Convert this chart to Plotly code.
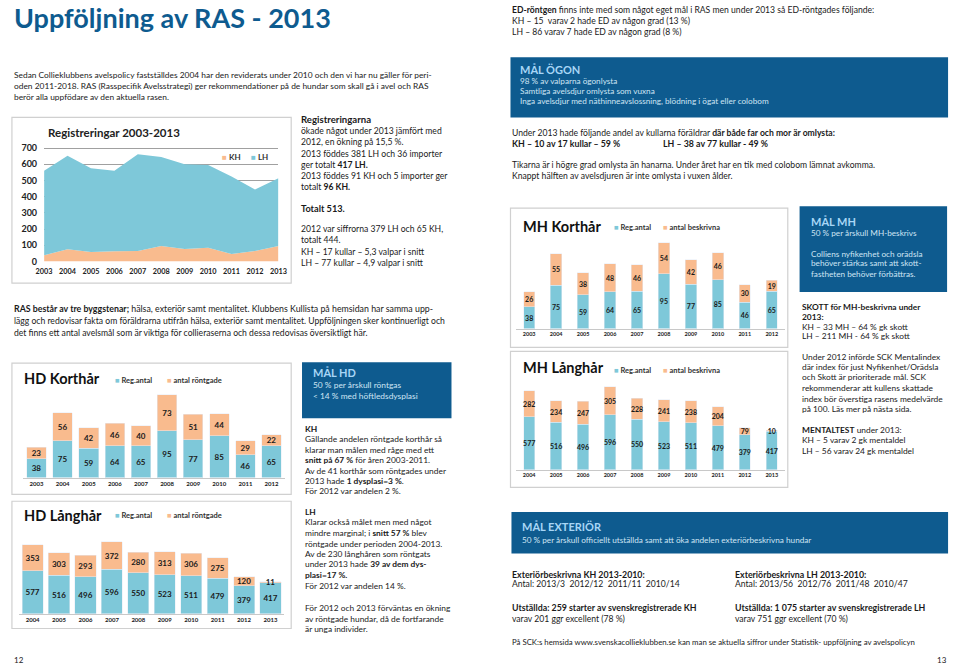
import plotly.graph_objects as go

W, H = 960, 671
def X(px): return px / W
def Y(py): return 1 - py / H

# ---------------- DATA ----------------
reg_years = [2003, 2004, 2005, 2006, 2007, 2008, 2009, 2010, 2011, 2012, 2013]
reg_kh = [38, 75, 59, 64, 65, 95, 77, 85, 46, 65, 96]
reg_lh = [522, 577, 516, 496, 596, 550, 523, 511, 479, 379, 417]
reg_ticks = [0, 100, 200, 300, 400, 500, 600, 700]

hdk_years = ["2003", "2004", "2005", "2006", "2007", "2008", "2009", "2010", "2011", "2012"]
hdk_reg = [38, 75, 59, 64, 65, 95, 77, 85, 46, 65]
hdk_xray = [23, 56, 42, 46, 40, 73, 51, 44, 29, 22]

hdl_years = ["2004", "2005", "2006", "2007", "2008", "2009", "2010", "2011", "2012", "2013"]
hdl_reg = [577, 516, 496, 596, 550, 523, 511, 479, 379, 417]
hdl_xray = [353, 303, 293, 372, 280, 313, 306, 275, 120, 11]

mhk_years = ["2003", "2004", "2005", "2006", "2007", "2008", "2009", "2010", "2011", "2012"]
mhk_reg = [38, 75, 59, 64, 65, 95, 77, 85, 46, 65]
mhk_desc = [26, 55, 38, 48, 46, 54, 42, 46, 30, 19]

mhl_years = ["2004", "2005", "2006", "2007", "2008", "2009", "2010", "2011", "2012", "2013"]
mhl_reg = [577, 516, 496, 596, 550, 523, 511, 479, 379, 417]
mhl_desc = [282, 234, 247, 305, 228, 241, 238, 204, 79, 10]

# ---------------- STYLE ----------------
FONT = "Lato"
BLUE = "#7ec8d9"
ORANGE = "#f9bb8e"
NAVY = "#0e5b8f"
TXT = "#1a1a1a"
BOX_T = "#a8d6f6"
BOX_B = "#cfe5f4"

fig = go.Figure()
layout = {}
annotations = []
shapes = []

def txt(x, y, s, size=9, color=TXT, anchor="left", family=FONT):
    annotations.append(dict(x=X(x), y=Y(y), xref="paper", yref="paper", text=s,
                            showarrow=False, xanchor=anchor, yanchor="middle",
                            borderpad=0,
                            font=dict(size=size, color=color, family=family)))

def rect(x0, y0, x1, y1, fill=None, line="#d0d0d0", lw=1.2):
    shapes.append(dict(type="rect", xref="paper", yref="paper",
                       x0=X(x0), x1=X(x1), y0=Y(y1), y1=Y(y0),
                       fillcolor=fill if fill else "rgba(0,0,0,0)",
                       line=dict(color=line if line else "rgba(0,0,0,0)", width=lw if line else 0),
                       layer="below"))

def legend(x, y, label, color, size=7.5):
    txt(x, y, f'<span style="color:{color}">■</span> <b>{label}</b>', size=size, color="#333")

# ---------------- Registreringar area chart ----------------
fig.add_trace(go.Scatter(x=reg_years, y=reg_kh, stackgroup="reg", mode="none",
                         fillcolor=ORANGE, xaxis="x", yaxis="y", name="KH"))
fig.add_trace(go.Scatter(x=reg_years, y=reg_lh, stackgroup="reg", mode="none",
                         fillcolor=BLUE, xaxis="x", yaxis="y", name="LH"))
REG_TOP = 712
layout["xaxis"] = dict(domain=[X(36.7), X(275)], anchor="y", range=[2003, 2013],
                       autorange=False,
                       tickvals=reg_years, ticktext=[str(v) for v in reg_years],
                       showgrid=False, zeroline=False, showline=False, ticks="",
                       tickfont=dict(size=7.3, family=FONT, color="#222", weight="bold"),
                       ticklabelstandoff=4)
layout["yaxis"] = dict(domain=[Y(261), Y(261 - 115 * REG_TOP / 700)], anchor="x",
                       range=[0, REG_TOP], autorange=False,
                       tickmode="array", tickvals=reg_ticks,
                       ticktext=[str(v) for v in reg_ticks],
                       showgrid=True, gridcolor="#a0a0a0", gridwidth=1,
                       zeroline=False, showline=False, ticks="",
                       tickfont=dict(size=9, family=FONT, color="#222", weight="bold"),
                       ticklabelstandoff=6)
rect(4, 115, 288, 283)
txt(40, 130, "<b>Registreringar 2003-2013</b>", size=11.5, color="#222")
legend(217, 155, "KH", ORANGE, 8)
legend(246, 155, "LH", BLUE, 8)

# ---------------- stacked bar helper ----------------
def bar_chart(idx, cats, a, b, x0, x1, ybase, ytop, ymax, gap, lblsize, ticksize, bname):
    xa, ya = f"x{idx}", f"y{idx}"
    common = dict(xaxis=xa, yaxis=ya, textposition="inside", insidetextanchor="middle",
                  textangle=0, constraintext="none", cliponaxis=False, width=1 - gap,
                  textfont=dict(size=lblsize, color=TXT, family=FONT))
    fig.add_trace(go.Bar(x=cats, y=a, marker_color=BLUE, name="Reg.antal",
                         texttemplate="<b>%{y}</b>", **common))
    fig.add_trace(go.Bar(x=cats, y=b, marker_color=ORANGE, name=bname,
                         texttemplate="<b>%{y}</b>", **common))
    layout[f"xaxis{idx}"] = dict(domain=[X(x0), X(x1)], anchor=ya, type="category",
                                 showgrid=False, zeroline=False, showline=True,
                                 linecolor="#c8c8c8", linewidth=1, ticks="",
                                 tickfont=dict(size=ticksize, family=FONT, color="#222", weight="bold"))
    layout[f"yaxis{idx}"] = dict(domain=[Y(ybase), Y(ytop)], anchor=xa, range=[0, ymax],
                                 autorange=False, visible=False)

# HD Korthår
bar_chart(2, hdk_years, hdk_reg, hdk_xray, 15.7, 281.3, 480, 395, 170, 0.25, 8, 6, "antal röntgade")
rect(4, 364, 288, 497)
txt(15, 380, "<b>HD Korthår</b>", size=14.5, color="#111")
legend(108, 382, "Reg.antal", BLUE)
legend(161, 382, "antal röntgade", ORANGE)

# HD Långhår
bar_chart(3, hdl_years, hdl_reg, hdl_xray, 11.6, 280.4, 618, 542.7, 1000, 0.2, 8, 6, "antal röntgade")
rect(4, 504, 288, 633)
txt(15, 518, "<b>HD Långhår</b>", size=14.5, color="#111")
legend(108, 518, "Reg.antal", BLUE)
legend(161, 518, "antal röntgade", ORANGE)

# MH Korthår
bar_chart(4, mhk_years, mhk_reg, mhk_desc, 516.3, 790.4, 329, 235.4, 160, 0.58, 7, 5.5, "antal beskrivna")
rect(511, 207, 793, 348)
txt(523, 226, "<b>MH Korthår</b>", size=14.5, color="#111")
legend(615, 227, "Reg.antal", BLUE)
legend(665, 227, "antal beskrivna", ORANGE)

# MH Långhår
bar_chart(5, mhl_years, mhl_reg, mhl_desc, 516.3, 790.4, 472, 383.6, 950, 0.58, 7, 5.5, "antal beskrivna")
rect(511, 352, 793, 490)
txt(523, 368, "<b>MH Långhår</b>", size=14.5, color="#111")
legend(615, 371, "Reg.antal", BLUE)
legend(665, 371, "antal beskrivna", ORANGE)

# ---------------- LEFT PAGE TEXT ----------------
txt(5, 14, "<b>Uppföljning av RAS - 2013</b>", size=27, color=NAVY)

for yy, s in [(72, "Sedan Collieklubbens avelspolicy fastställdes 2004 har den reviderats under 2010 och den vi har nu gäller för peri-"),
              (83, "oden 2011-2018. RAS (Rasspecifik Avelsstrategi) ger rekommendationer på de hundar som skall gå i avel och RAS"),
              (94, "berör alla uppfödare av den aktuella rasen.")]:
    txt(5, yy, s, size=8.4)

col = [(117, "<b>Registreringarna</b>", 9.6),
       (129, "ökade något under 2013 jämfört med", 8.6),
       (140, "2012, en ökning på 15,5 %.", 8.6),
       (152, "2013 föddes 381 LH och 36 importer", 8.6),
       (163, "ger totalt <b>417 LH.</b>", 8.6),
       (174, "2013 föddes 91 KH och 5 importer ger", 8.6),
       (185, "totalt <b>96 KH.</b>", 8.6),
       (207, "<b>Totalt 513.</b>", 9.2),
       (228, "2012 var siffrorna 379 LH och 65 KH,", 8.6),
       (239, "totalt 444.", 8.6),
       (251, "KH – 17 kullar – 5,3 valpar i snitt", 8.6),
       (263, "LH – 77 kullar – 4,9 valpar i snitt", 8.6)]
for yy, s, sz in col:
    txt(297, yy, s, size=sz)

txt(5, 309, "<b>RAS består av tre byggstenar;</b> hälsa, exteriör samt mentalitet. Klubbens Kullista på hemsidan har samma upp-", size=8.8)
txt(5, 321, "lägg och redovisar fakta om föräldrarna utifrån hälsa, exteriör samt mentalitet. Uppföljningen sker kontinuerligt och", size=8.6)
txt(5, 333, "det finns ett antal avelsmål som är viktiga för collieraserna och dessa redovisas översiktligt här.", size=8.6)

# MÅL HD box
rect(299, 363, 451, 420, fill=NAVY, line=None)
txt(309, 374, "<b>MÅL HD</b>", size=11, color=BOX_T)
txt(309, 386, "50 % per årskull röntgas", size=8.4, color=BOX_B)
txt(309, 397, "< 14 % med höftledsdysplasi", size=8.4, color=BOX_B)

hdtext = [(431, "<b>KH</b>"),
          (441, "Gällande andelen röntgade korthår så"),
          (452, "klarar man målen med råge med ett"),
          (462, "<b>snitt på 67 %</b> för åren 2003-2011."),
          (473, "Av de 41 korthår som röntgades under"),
          (483, "2013 hade <b>1 dysplasi=3 %</b>."),
          (494, "För 2012 var andelen 2 %."),
          (515, "<b>LH</b>"),
          (525, "Klarar också målet men med något"),
          (536, "mindre marginal; i <b>snitt 57 %</b> blev"),
          (547, "röntgade under perioden 2004-2013."),
          (557, "Av de 230 långhåren som röntgats"),
          (568, "under 2013 hade <b>39 av dem dys-</b>"),
          (579, "<b>plasi=17 %.</b>"),
          (590, "För 2012 var andelen 14 %."),
          (612, "För 2012 och 2013 förväntas en ökning"),
          (623, "av röntgade hundar, då de fortfarande"),
          (633, "är unga individer.")]
for yy, s in hdtext:
    txt(301, yy, s, size=8.4)

txt(5, 665, "12", size=8)

# ---------------- RIGHT PAGE TEXT ----------------
txt(512, 6, "<b>ED-röntgen</b> finns inte med som något eget mål i RAS men under 2013 så ED-röntgades följande:", size=8.6)
txt(512, 17, "KH – 15  varav 2 hade ED av någon grad (13 %)", size=8.6)
txt(512, 28, "LH – 86 varav 7 hade ED av någon grad (8 %)", size=8.6)

rect(511, 54, 956, 115, fill=NAVY, line=None)
txt(520, 66, "<b>MÅL ÖGON</b>", size=11, color=BOX_T)
txt(520, 78, "98 % av valparna ögonlysta", size=8.2, color=BOX_B)
txt(520, 88, "Samtliga avelsdjur omlysta som vuxna", size=8.2, color=BOX_B)
txt(520, 98, "Inga avelsdjur med näthinneavslossning, blödning i ögat eller colobom", size=8.2, color=BOX_B)

txt(512, 131, "Under 2013 hade följande andel av kullarna föräldrar <b>där både far och mor är omlysta:</b>", size=8.6)
txt(512, 141, "<b>KH – 10 av 17 kullar – 59 %</b>", size=8.8)
txt(665, 141, "<b>LH – 38 av 77 kullar - 49 %</b>", size=8.8)
txt(512, 163, "Tikarna är i högre grad omlysta än hanarna. Under året har en tik med colobom lämnat avkomma.", size=8.6)
txt(512, 174, "Knappt hälften av avelsdjuren är inte omlysta i vuxen ålder.", size=8.6)

rect(805, 205, 955, 292, fill=NAVY, line=None)
txt(816, 220, "<b>MÅL MH</b>", size=11, color=BOX_T)
txt(816, 232, "50 % per årskull MH-beskrivs", size=8.2, color=BOX_B)
txt(816, 253, "Colliens nyfikenhet och orädsla", size=8.2, color=BOX_B)
txt(816, 263, "behöver stärkas samt att skott-", size=8.2, color=BOX_B)
txt(816, 274, "fastheten behöver förbättras.", size=8.2, color=BOX_B)

mhtext = [(307, "<b>SKOTT för MH-beskrivna under</b>"),
          (317, "<b>2013:</b>"),
          (327, "KH – 33 MH – 64 % gk skott"),
          (337, "LH – 211 MH - 64 % gk skott"),
          (358, "Under 2012 införde SCK Mentalindex"),
          (368, "där index för just Nyfikenhet/Orädsla"),
          (378, "och Skott är prioriterade mål. SCK"),
          (389, "rekommenderar att kullens skattade"),
          (400, "index bör överstiga rasens medelvärde"),
          (411, "på 100. Läs mer på nästa sida."),
          (432, "<b>MENTALTEST</b> under 2013:"),
          (442, "KH – 5 varav 2 gk mentaldel"),
          (453, "LH – 56 varav 24 gk mentaldel")]
for yy, s in mhtext:
    txt(806, yy, s, size=8.4)

rect(512, 515, 956, 557, fill=NAVY, line=None)
txt(522, 530, "<b>MÅL EXTERIÖR</b>", size=11, color=BOX_T)
txt(522, 543, "50 % per årskull officiellt utställda samt att öka andelen exteriörbeskrivna hundar", size=8.2, color=BOX_B)

txt(512, 578, "<b>Exteriörbeskrivna KH 2013-2010:</b>", size=8.8)
txt(512, 588, "Antal: 2013/3  2012/12  2011/11  2010/14", size=8.6)
txt(512, 612, "<b>Utställda: 259 starter av svenskregistrerade KH</b>", size=8.8)
txt(512, 623, "varav 201 ggr excellent (78 %)", size=8.6)
txt(738, 578, "<b>Exteriörbeskrivna LH 2013-2010:</b>", size=8.8)
txt(738, 588, "Antal: 2013/56  2012/76  2011/48  2010/47", size=8.6)
txt(738, 612, "<b>Utställda: 1 075 starter av svenskregistrerade LH</b>", size=8.8)
txt(738, 623, "varav 751 ggr excellent (70 %)", size=8.6)
txt(512, 647, "På SCK:s hemsida www.svenskacollieklubben.se kan man se aktuella siffror under Statistik- uppföljning av avelspolicyn", size=7.8)
txt(956, 665, "13", size=8, anchor="right")

# ---------------- LAYOUT ----------------
fig.update_layout(width=W, height=H, margin=dict(l=0, r=0, t=0, b=0),
                  paper_bgcolor="white", plot_bgcolor="rgba(0,0,0,0)",
                  showlegend=False, barmode="stack",
                  font=dict(family=FONT, color=TXT),
                  annotations=annotations, shapes=shapes, **layout)

fig.write_html("out.html")
